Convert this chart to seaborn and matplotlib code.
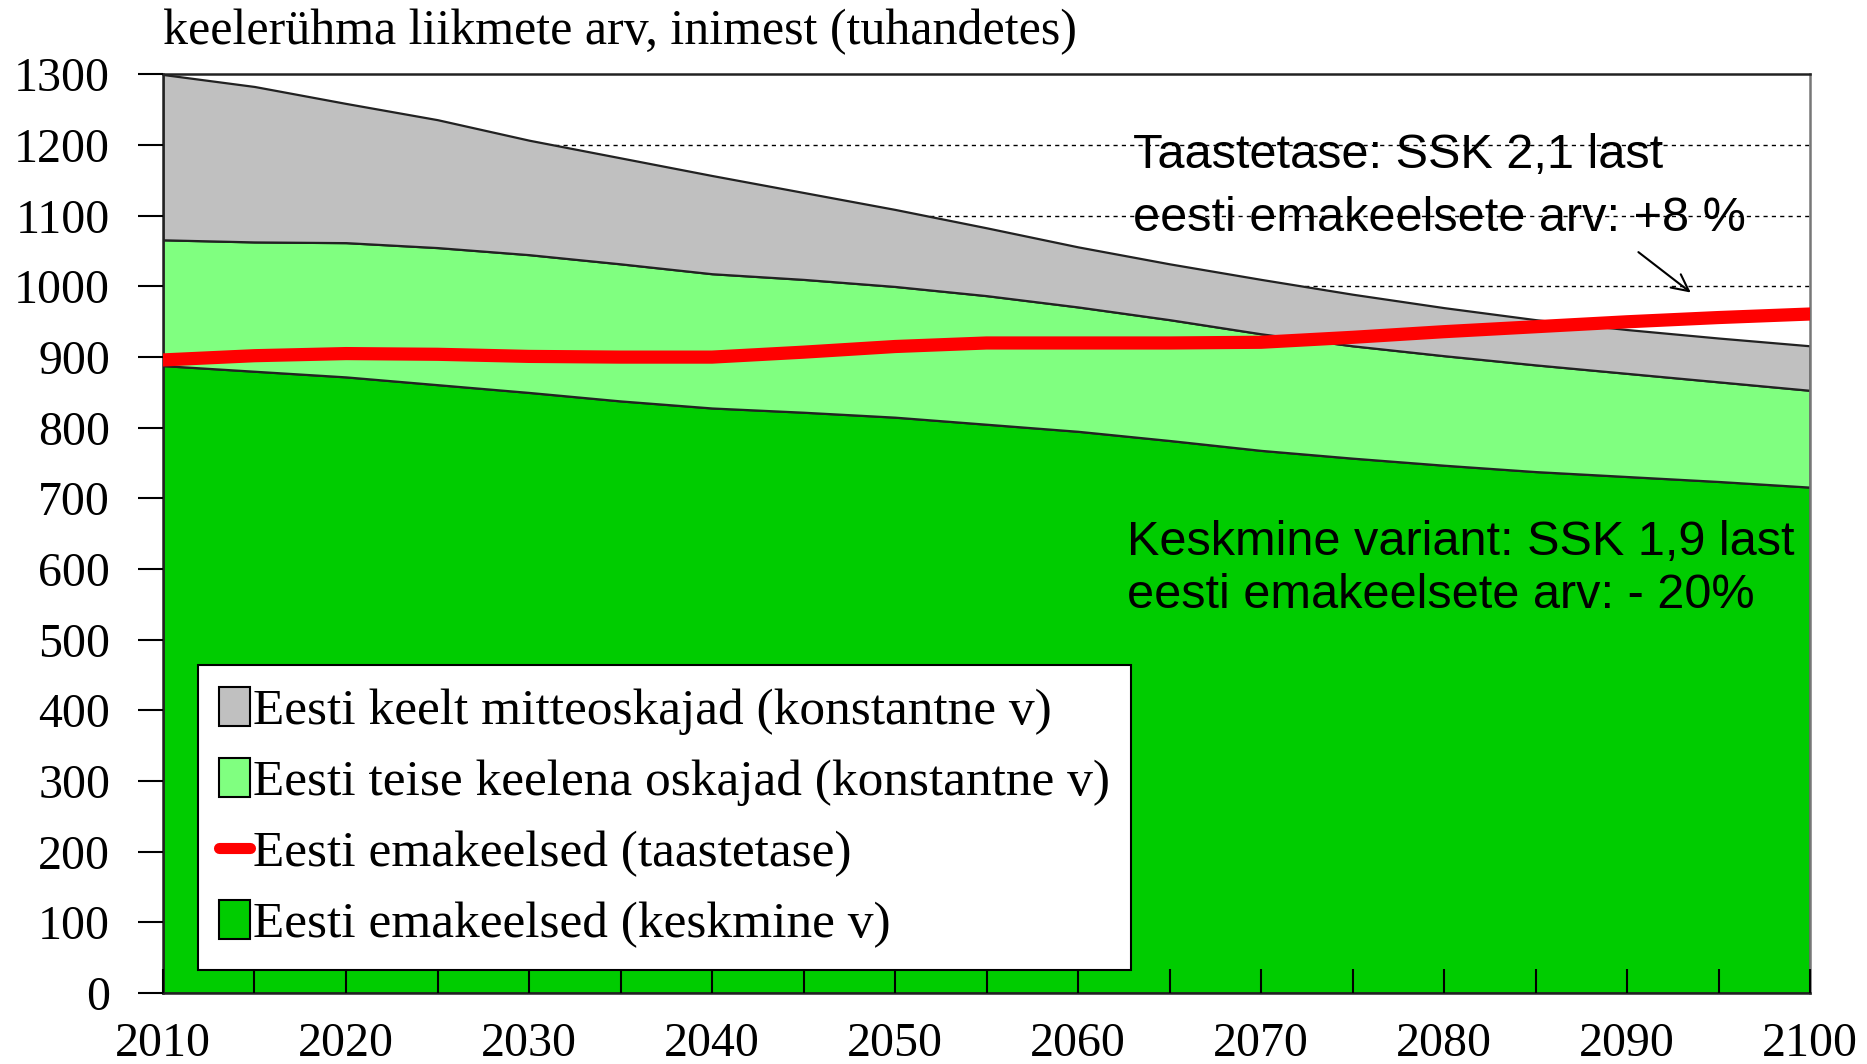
import numpy as np
import pandas as pd
import matplotlib
matplotlib.use("Agg")
import matplotlib.pyplot as plt
from matplotlib.patches import Patch
from matplotlib.lines import Line2D
import seaborn as sns

# values, thousands of people, every 5 years
years = list(range(2010, 2101, 5))
native_mid = [888, 880, 872, 861, 850, 838, 828, 822, 815, 805, 795, 782, 768, 757, 747, 738, 731, 724, 716]
second_lang = [178, 183, 190, 194, 195, 194, 190, 188, 185, 182, 176, 171, 165, 159, 155, 151, 146, 141, 137]
non_speakers = [234, 220, 197, 181, 162, 150, 139, 123, 109, 96, 85, 79, 77, 73, 68, 64, 62, 62, 63]
native_repl = [896, 902, 905, 904, 901, 900, 900, 907, 915, 920, 920, 920, 921, 928, 936, 943, 950, 956, 961]

labels = ["Eesti keelt mitteoskajad (konstantne v)",
          "Eesti teise keelena oskajad (konstantne v)",
          "Eesti emakeelsed (taastetase)",
          "Eesti emakeelsed (keskmine v)"]

df = pd.DataFrame({"year": years, "repl": native_repl})

sns.set_theme(style="ticks")
plt.rcParams["font.family"] = ["Liberation Serif", "DejaVu Serif"]
plt.rcParams["text.color"] = "black"

fig = plt.figure(figsize=(18.67, 10.64), dpi=100)
ax = fig.add_axes([0.0873, 0.0667, 0.8822, 0.8633])
ax.set_axisbelow(False)

grey = "#c0c0c0"
light = "#80ff80"
green = "#00cc00"

# dashed grid lines sit behind the filled areas, ticks stay on top
ax.hlines(range(100, 1300, 100), 2010, 2100, color="black", linestyle=(0, (3, 3)),
          linewidth=1.0, zorder=0.5)

ax.stackplot(years, native_mid, second_lang, non_speakers,
             colors=[green, light, grey], edgecolor="#222222", linewidth=1.6, zorder=2)

sns.lineplot(data=df, x="year", y="repl", color="red", linewidth=9.5, ax=ax, zorder=3)

ax.set_xlim(2010, 2100)
ax.set_ylim(0, 1300)
ax.set_xlabel("")
ax.set_ylabel("")
ax.set_yticks(range(0, 1301, 100))
ax.set_xticks(range(2010, 2101, 10))
ax.set_xticks(range(2015, 2100, 10), minor=True)
ax.tick_params(axis="y", direction="out", length=18, width=1.5, pad=20, labelsize=34.5,
               colors="black")
ax.tick_params(axis="x", which="both", direction="in", length=17, width=1.5, pad=21,
               labelsize=34.5, colors="black")
for s in ax.spines.values():
    s.set_color("#222222")
    s.set_linewidth(1.8)
ax.spines["right"].set_color("#777777")

ax.text(0.0, 1.0326, "keelerühma liikmete arv, inimest (tuhandetes)", transform=ax.transAxes,
        fontsize=36, ha="left", va="baseline")

sans = ["Liberation Sans", "DejaVu Sans"]
ax.text(2063, 1185, "Taastetase: SSK 2,1 last", family=sans, fontsize=35, va="center", zorder=0)
ax.text(2063, 1096, "eesti emakeelsete arv: +8 %", family=sans, fontsize=35, va="center", zorder=0)
ax.text(2062.7, 638, "Keskmine variant: SSK 1,9 last", family=sans, fontsize=35, va="center", zorder=5)
ax.text(2062.7, 563, "eesti emakeelsete arv: - 20%", family=sans, fontsize=35, va="center", zorder=5)
ax.annotate("", xy=(2093.6, 989), xytext=(2090.5, 1051),
            arrowprops=dict(arrowstyle="->", color="black", lw=1.5, mutation_scale=30), zorder=5)

handles = [Patch(facecolor=grey, edgecolor="black", linewidth=1.5),
           Patch(facecolor=light, edgecolor="black", linewidth=1.5),
           Line2D([0], [0], color="red", linewidth=8),
           Patch(facecolor=green, edgecolor="black", linewidth=1.5)]
leg = ax.legend(handles, labels, loc="lower left", bbox_to_anchor=(0.021, 0.025),
                fontsize=37, frameon=True, fancybox=False, framealpha=1,
                handlelength=0.6, handleheight=0.8, handletextpad=0.05,
                labelspacing=0.44, borderpad=0.42, borderaxespad=0)
leg.get_frame().set_edgecolor("black")
leg.get_frame().set_linewidth(1.5)
leg.set_zorder(6)

fig.savefig("out.png", dpi=100)
